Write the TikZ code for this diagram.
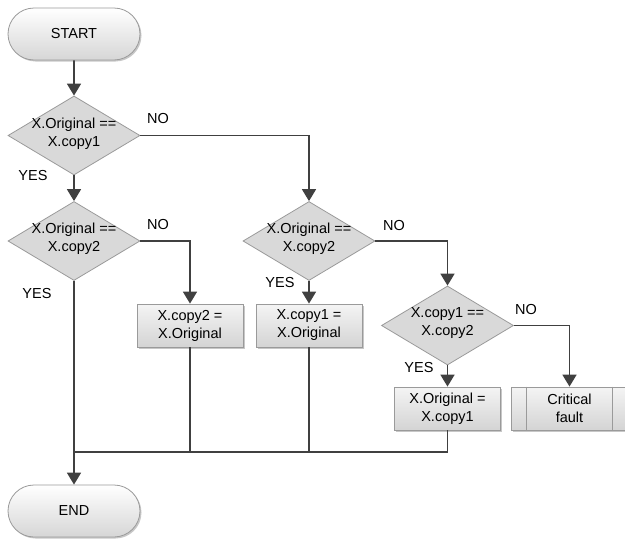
\documentclass[tikz,border=0pt]{standalone}
\usepackage{fontspec}
\setmainfont{Liberation Sans}
\usetikzlibrary{shapes.geometric,shapes.misc,arrows.meta,shadows}
\definecolor{linec}{HTML}{404040}
\definecolor{bordc}{HTML}{9A9A9A}
\definecolor{decfill}{HTML}{D9D9D9}
\definecolor{termbot}{HTML}{D6D6D6}
\definecolor{boxtop}{HTML}{F4F4F4}
\definecolor{boxbot}{HTML}{D4D4D4}
\begin{document}
\begin{tikzpicture}[x=1pt,y=-1pt,
  every node/.style={font=\fontsize{14.5}{18}\selectfont, text=black},
  softshadow/.style={drop shadow={shadow xshift=1.5pt, shadow yshift=-1.5pt, opacity=0.22, fill=black}},
  term/.style={rounded rectangle, draw=bordc, line width=0.8pt, top color=white, bottom color=termbot,
    minimum width=132pt, minimum height=52pt, inner sep=0pt, softshadow},
  decision/.style={diamond, draw=bordc, line width=0.8pt, fill=decfill,
    minimum width=132pt, minimum height=79pt, inner sep=0pt},
  dlabel/.style={align=center, inner sep=0pt},
  process/.style={rectangle, draw=bordc, line width=0.8pt, top color=boxtop, bottom color=boxbot,
    minimum width=106pt, minimum height=43pt, align=center, inner sep=0pt, softshadow},
  predef/.style={process, minimum width=117pt},
  flow/.style={draw=linec, line width=1.8pt},
  arr/.style={flow, -{Triangle[length=12pt,width=14pt]}},
  tag/.style={inner sep=0pt}
]
\useasboundingbox (0,0) rectangle (625,541);

% terminals
\node[term] (start) at (74,34) {START};
\node[term] (end) at (74,511) {END};

% decisions
\node[decision] (d1) at (74,135.5) {};
\node[dlabel] (d1t) at ([yshift=2pt]d1.center) {X.Original ==\\X.copy1};
\node[decision] (d2) at (74,241) {};
\node[dlabel] (d2t) at ([yshift=2pt]d2.center) {X.Original ==\\X.copy2};
\node[decision] (d3) at (309,241) {};
\node[dlabel] (d3t) at ([yshift=2pt]d3.center) {X.Original ==\\X.copy2};
\node[decision] (d4) at (447.5,325.5) {};
\node[dlabel] (d4t) at ([yshift=2pt]d4.center) {X.copy1 ==\\X.copy2};

% processes
\node[process] (b1) at (190,325.5) {X.copy2 =\\X.Original};
\node[process] (b2) at (309,325.5) {X.copy1 =\\X.Original};
\node[process] (b3) at (447.5,408.5) {X.Original =\\X.copy1};
\node[predef] (cf) at (569.5,408.5) {Critical\\fault};
\draw[bordc, line width=0.8pt] ([xshift=16pt]cf.north west) -- ([xshift=16pt]cf.south west);
\draw[bordc, line width=0.8pt] ([xshift=-16pt]cf.north east) -- ([xshift=-16pt]cf.south east);

% branch labels
\node[tag] (no1) at (158,119) {NO};
\node[tag] (yes1) at (33,176) {YES};
\node[tag] (no2) at (158,225) {NO};
\node[tag] (yes2) at (37,294) {YES};
\node[tag] (no3) at (394,226) {NO};
\node[tag] (yes3) at (280,283) {YES};
\node[tag] (no4) at (526,310) {NO};
\node[tag] (yes4) at (419,368) {YES};

% connectors
\coordinate (m) at (74,452);
\draw[arr] (start) -- (d1);
\draw[arr] (d1) -- (d2);
\draw[arr] (d1.east) -| (d3.north);
\draw[arr] (d2.east) -| (b1.north);
\draw[arr] (d3) -- (b2);
\draw[arr] (d3.east) -| (d4.north);
\draw[arr] (d4) -- (b3);
\draw[arr] (d4.east) -| (cf.north);
\draw[arr] (d2.south) -- (end.north);
\draw[flow] (b3.south) |- (m);
\draw[flow] (b1.south) -- (b1.south |- m);
\draw[flow] (b2.south) -- (b2.south |- m);
\end{tikzpicture}
\end{document}
